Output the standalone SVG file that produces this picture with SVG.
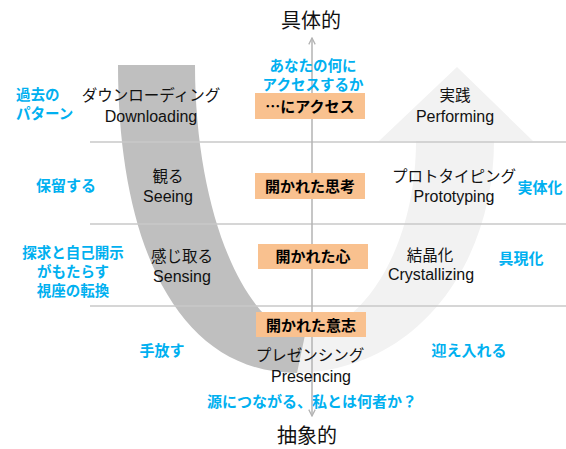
<svg xmlns="http://www.w3.org/2000/svg" width="566" height="449" viewBox="0 0 566 449">
<style>
.jp{font-family:"Noto Sans CJK JP","Noto Sans",sans-serif;font-size:15.5px;fill:#111;text-anchor:middle}
.en{font-family:"Liberation Sans","Noto Sans",sans-serif;font-size:16px;fill:#111;text-anchor:middle}
.bl{font-family:"Noto Sans CJK JP","Noto Sans",sans-serif;font-size:15px;font-weight:700;fill:#00b0f0;text-anchor:middle}
.bl2{font-family:"Noto Sans CJK JP","Noto Sans",sans-serif;font-size:14.5px;font-weight:700;fill:#00b0f0;text-anchor:middle}
.bx{font-family:"Noto Sans CJK JP","Noto Sans",sans-serif;font-size:15px;font-weight:700;fill:#000;text-anchor:middle}
.ttl{font-family:"Noto Sans CJK JP","Noto Sans",sans-serif;font-size:20px;fill:#111;text-anchor:middle}
.box{fill:#f9c18f}
.grid{stroke:#c8c8c8;stroke-width:1.5;fill:none}
.axis{stroke:#b3b3b3;stroke-width:1.5;fill:none}
</style>
<defs>
<marker id="chev" viewBox="0 0 10 10" refX="9" refY="5" markerWidth="8" markerHeight="8" markerUnits="userSpaceOnUse" orient="auto">
<path d="M1,1 L9,5 L1,9" fill="none" stroke="#b3b3b3" stroke-width="1.6"/>
</marker>
</defs>
<g id="u-shape">
<path id="light-band" d="M292,373 C420,373 494,260 494,141 L533,141 L457,67 L379,141 L416,141 C416,250 360,335 300,335 Z" fill="#f2f2f2"/>
<path id="dark-band" d="M118,65 L195,65 C195,220 250,335 305,335 L297,373 C175,373 118,240 118,65 Z" fill="#bfbfbf"/>
</g>
<g id="grid">
<line class="grid" x1="90" y1="142" x2="566" y2="142"/>
<line class="grid" x1="90" y1="224" x2="566" y2="224"/>
<line class="grid" x1="90" y1="306" x2="566" y2="306"/>
</g>
<g id="connectors">
<line class="axis" x1="312" y1="230" x2="312" y2="38" marker-end="url(#chev)"/>
<line class="axis" x1="312" y1="230" x2="312" y2="416" marker-end="url(#chev)"/>
</g>
<g id="title-top"><text class="ttl" x="311" y="28">具体的</text></g>
<g id="title-bottom"><text class="ttl" x="307" y="443">抽象的</text></g>
<g id="q-access">
<text class="bl2" x="313" y="71">あなたの何に</text>
<text class="bl2" x="313" y="90">アクセスするか</text>
</g>
<g id="box-access"><rect class="box" x="255" y="93" width="110" height="26"/><text class="bx" x="310" y="112">…にアクセス</text></g>
<g id="box-mind"><rect class="box" x="255" y="173" width="110" height="26"/><text class="bx" x="310" y="192">開かれた思考</text></g>
<g id="box-heart"><rect class="box" x="258" y="244" width="110" height="25"/><text class="bx" x="313" y="262">開かれた心</text></g>
<g id="box-will"><rect class="box" x="256" y="312" width="110" height="25"/><text class="bx" x="311" y="331">開かれた意志</text></g>
<g id="past-patterns">
<text class="bl2" x="16" y="100" style="text-anchor:start">過去の</text>
<text class="bl2" x="16" y="119" style="text-anchor:start">パターン</text>
</g>
<g id="downloading"><text class="jp" x="151" y="101">ダウンローディング</text><text class="en" x="151" y="122">Downloading</text></g>
<g id="performing"><text class="jp" x="455" y="101">実践</text><text class="en" x="455" y="122">Performing</text></g>
<g id="suspending"><text class="bl" x="66" y="191">保留する</text></g>
<g id="seeing"><text class="jp" x="168" y="182">観る</text><text class="en" x="168" y="202">Seeing</text></g>
<g id="prototyping"><text class="jp" x="454" y="182">プロトタイピング</text><text class="en" x="454" y="202">Prototyping</text></g>
<g id="enacting"><text class="bl" x="540" y="193">実体化</text></g>
<g id="redirecting">
<text class="bl2" x="73" y="258">探求と自己開示</text>
<text class="bl2" x="73" y="277">がもたらす</text>
<text class="bl2" x="73" y="296">視座の転換</text>
</g>
<g id="sensing"><text class="jp" x="182" y="262">感じ取る</text><text class="en" x="182" y="282">Sensing</text></g>
<g id="crystallizing"><text class="jp" x="430" y="261">結晶化</text><text class="en" x="431" y="280">Crystallizing</text></g>
<g id="embodying"><text class="bl" x="521" y="264">具現化</text></g>
<g id="letting-go"><text class="bl" x="162" y="356">手放す</text></g>
<g id="letting-come"><text class="bl" x="469" y="356">迎え入れる</text></g>
<g id="presencing"><text class="jp" x="310" y="361">プレゼンシング</text><text class="en" x="311" y="382">Presencing</text></g>
<g id="source"><text class="bl" x="312" y="407">源につながる、私とは何者か？</text></g>
</svg>
